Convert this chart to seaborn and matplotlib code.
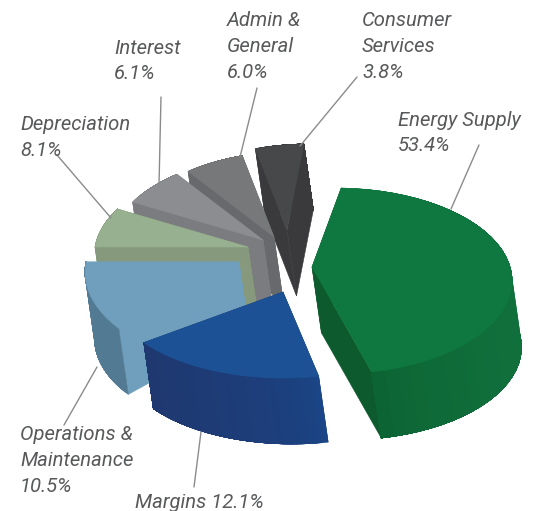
import numpy as np
import matplotlib
matplotlib.use("Agg")
import matplotlib.pyplot as plt
from matplotlib.colors import to_rgb
import seaborn as sns

# ---- data -----------------------------------------------------------
categories = ["Energy Supply", "Margins", "Operations &\nMaintenance",
              "Depreciation", "Interest", "Admin &\nGeneral", "Consumer\nServices"]
values = [53.4, 12.1, 10.5, 8.1, 6.1, 6.0, 3.8]

# ---- style ----------------------------------------------------------
top_hex = ["#0E7840", "#1C5295", "#6F9FBD", "#97B08F", "#8C8D90", "#77787A", "#47484A"]
face_hex = ["#0C5A2D", "#1E3A72", "#6F9FBD", "#86997D", "#7B7C7F", "#68696C", "#3A3A3C"]
wall_start_hex = ["#10703C", "#1A4688", "#527A92", "#86997D", "#7B7C7F", "#68696C", "#3A3A3C"]
wall_end_hex = ["#0C6434", "#1F3870", "#527A92", "#86997D", "#7B7C7F", "#68696C", "#3A3A3C"]
wall_power = [6.0, 0.5, 1.0, 1.0, 1.0, 1.0, 1.0]

# ---- layout (projection of the exploded 3-D pie) ---------------------
hub = np.array([265.0, 255.0])
explode = [(47, 12), (18, 37), (-26, 7), (-17, -8), (-2, -15), (9, -18), (22, -25)]
ring_center = [(23, 14), (0, 0), (23, 10), (23, 10), (23, 10), (23, 10), (23, 10)]
ring_axes = [(177, 93), (172, 86), (177, 96), (177, 96), (177, 96), (177, 96), (177, 96)]
warp_delta = [2.0, -24.2, -1.8, 2.4, -2.8, -2.7, -4.3, -2.0]
depth = np.array([9.5, 66.0])
draw_order = [6, 5, 4, 3, 2, 0, 1]

label_pos = [(398, 120), (135, 502), (20, 435), (20, 125), (114, 48), (227, 21), (362, 21)]
leaders = [((479, 145), (451, 209)), ((201, 432), (194, 487)), ((97, 367), (64, 425)),
           ((57, 155), (111, 218)), ((161, 97), (159, 185)), ((257, 88), (240, 157)),
           ((357, 77), (300, 146))]

sns.set_theme(style="white")
plt.rcParams["font.family"] = ["Roboto", "DejaVu Sans"]
top_colors = sns.color_palette(top_hex)

fig = plt.figure(figsize=(5.4, 5.11), dpi=100)
ax = fig.add_axes([0, 0, 1, 1])
ax.set_xlim(0, 540)
ax.set_ylim(511, 0)
ax.axis("off")

bounds = np.concatenate([[0], np.cumsum(values)]) / np.sum(values) * 360.0


def rim(i, theta):
    warped = theta + np.interp(theta, bounds, warp_delta)
    phi = np.radians(warped - 90.0)
    cx, cy = ring_center[i]
    a, b = ring_axes[i]
    return np.column_stack([cx + a * np.cos(phi), cy + b * np.sin(phi)])


def poly(pts, color, z):
    pts = np.asarray(pts)
    ax.fill(pts[:, 0], pts[:, 1], facecolor=color, edgecolor=color, linewidth=0.4, zorder=z)


for z, i in enumerate(draw_order):
    apex = hub + np.array(explode[i], dtype=float)
    thetas = np.linspace(bounds[i], bounds[i + 1], 40)
    edge = apex + rim(i, thetas)
    low = edge + depth
    apex_low = apex + depth
    base = z * 10
    poly([edge[-1], apex, apex_low, low[-1]], face_hex[i], base)
    poly([edge[0], apex, apex_low, low[0]], face_hex[i], base + 1)
    c0, c1 = np.array(to_rgb(wall_start_hex[i])), np.array(to_rgb(wall_end_hex[i]))
    # overlapping bands painted in order, so that no seams show in the gradient
    for k in range(len(edge) - 1):
        f = (k / (len(edge) - 2)) ** wall_power[i]
        band = np.vstack([edge[k:], low[k:][::-1]])
        poly(band, tuple(c0 + (c1 - c0) * f), base + 2)
    poly(np.vstack([apex, edge]), top_colors[i], base + 3)

for (p, q) in leaders:
    ax.plot([p[0], q[0]], [p[1], q[1]], color="#8A8B8D", lw=1.0, zorder=200)

for name, val, (x, y) in zip(categories, values, label_pos):
    sep = " " if name == "Margins" else "\n"
    for n, line in enumerate(f"{name}{sep}{val:.1f}%".split("\n")):
        ax.text(x, y + n * 25.5, line, ha="left", va="center", fontsize=14.6,
                style="italic", color="#58595B", zorder=300)

fig.savefig("out.png", dpi=100)
